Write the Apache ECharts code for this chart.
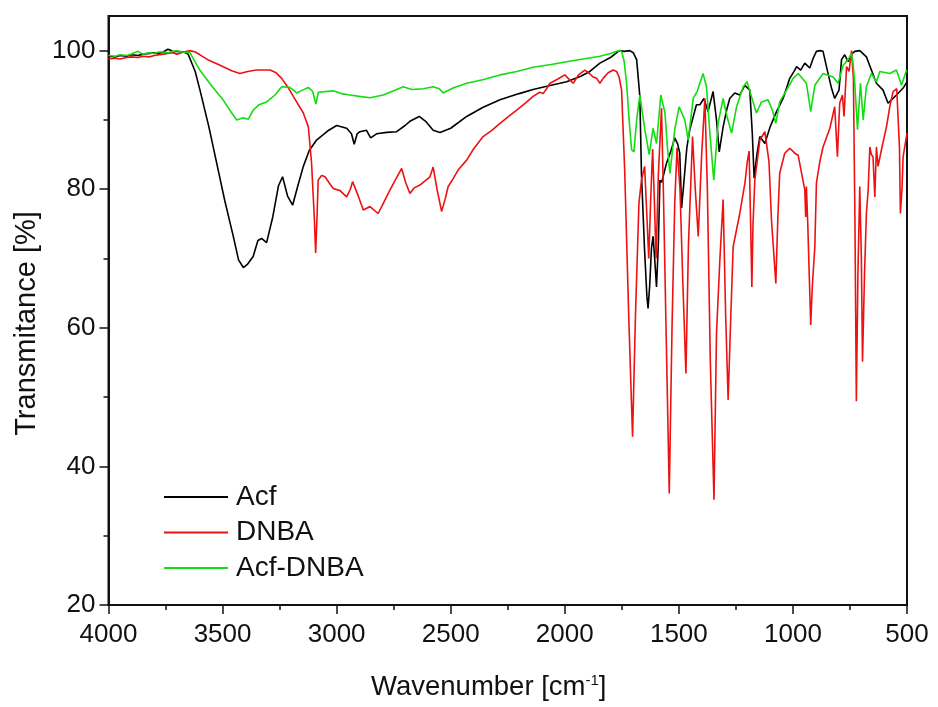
<!DOCTYPE html>
<html>
<head>
<meta charset="utf-8">
<script src="https://cdn.jsdelivr.net/npm/echarts@6/dist/echarts.min.js"></script>
<style>html,body{margin:0;padding:0;background:#fff}#c{width:938px;height:707px}</style>
</head>
<body>
<div id="c"></div>
<script>
// Data: [wavenumber (cm-1), transmittance (%)]
const seriesNames = ['Acf', 'DNBA', 'Acf-DNBA'];
const xTicks = [500, 1000, 1500, 2000, 2500, 3000, 3500, 4000];
const yTicks = [20, 40, 60, 80, 100];
const yMinorTicks = [30, 50, 70, 90];

const acf = [[4000,99.2],[3970,99.1],[3950,99.3],[3920,99.2],[3900,99.4],[3870,99.3],[3850,99.5],[3820,99.6],[3800,99.7],[3780,99.6],[3760,99.8],[3740,100.2],[3730,100.1],[3715,99.8],[3700,99.9],[3670,99.8],[3651,99.5],[3620,97],[3599,94.3],[3560,89],[3526,83.8],[3490,78.3],[3453,73.2],[3430,69.8],[3409,68.7],[3390,69.2],[3366,70.3],[3345,72.6],[3329,72.9],[3307,72.3],[3280,76],[3255,80.5],[3237,81.8],[3215,79],[3193,77.7],[3170,80.5],[3146,83.3],[3120,85.6],[3088,87.1],[3040,88.4],[3000,89.2],[2956,88.8],[2935,88],[2923,86.5],[2910,88],[2898,88.3],[2869,88.5],[2851,87.4],[2825,88],[2780,88.2],[2737,88.3],[2700,89.2],[2679,89.8],[2638,90.5],[2610,89.8],[2577,88.5],[2547,88.2],[2500,88.8],[2430,90.5],[2360,91.8],[2284,92.9],[2200,93.8],[2139,94.4],[2060,95],[1992,95.5],[1930,96.3],[1890,97],[1846,98.2],[1800,99],[1770,99.8],[1759,100],[1740,99.9],[1715,100],[1700,99.7],[1685,98.7],[1671,93.4],[1664,82.3],[1650,71],[1640,64.5],[1635,62.8],[1628,66],[1620,71.5],[1613,73.2],[1606,70],[1598,65.9],[1590,72],[1583,81.3],[1575,81],[1554,83.8],[1535,85.5],[1518,87.4],[1505,86.5],[1496,85.2],[1488,77.3],[1478,81],[1465,86],[1452,88.6],[1423,92.2],[1408,92.2],[1390,93.1],[1372,91.2],[1350,94.1],[1335,90],[1323,85.4],[1306,89],[1290,91.5],[1277,93.1],[1255,93.9],[1233,93.6],[1211,95],[1189,94.3],[1178,88],[1170,81.6],[1158,85],[1145,87.6],[1123,86.6],[1100,89],[1072,91.2],[1043,93.1],[1014,96],[995,97],[984,97.7],[966,97.2],[948,98.2],[926,97.5],[910,99],[897,99.9],[880,100],[868,99.9],[853,97.7],[831,94.6],[817,93.1],[798,94.3],[787,98.7],[773,99.4],[758,98.4],[743,99.5],[729,99.9],[707,100],[678,99.1],[656,97.2],[634,95.3],[605,94.3],[583,92.4],[568,92.9],[546,93.6],[517,94.6],[500,95.5]];

const dnba = [[4000,98.8],[3970,98.9],[3950,98.8],[3920,99.0],[3900,99.1],[3870,99.0],[3850,99.2],[3820,99.1],[3800,99.3],[3760,99.5],[3720,99.7],[3700,99.5],[3680,99.7],[3657,99.9],[3643,100],[3620,99.8],[3599,99.4],[3560,98.6],[3511,97.9],[3460,97.1],[3424,96.7],[3390,97.0],[3351,97.2],[3292,97.2],[3265,96.8],[3241,96],[3215,94.8],[3190,93.4],[3146,91],[3124,89],[3110,83.8],[3098,76],[3092,70.8],[3086,76],[3081,81.3],[3066,82],[3051,81.8],[3030,80.8],[3015,80.1],[2985,79.8],[2956,78.9],[2940,80],[2930,81.1],[2905,79],[2883,77],[2854,77.5],[2818,76.5],[2795,78],[2766,79.9],[2740,81.5],[2715,83],[2698,81],[2679,79.4],[2660,80.2],[2635,80.6],[2591,81.8],[2577,83.2],[2560,80],[2540,76.8],[2525,78.5],[2511,80.4],[2490,81.5],[2467,82.8],[2430,84.2],[2400,85.8],[2358,87.6],[2320,88.5],[2284,89.5],[2250,90.4],[2211,91.4],[2170,92.5],[2139,93.4],[2110,94],[2095,93.8],[2080,94.5],[2065,95.3],[2030,95.9],[2000,96.5],[1985,96],[1963,95.3],[1940,96.5],[1912,97.2],[1895,96.8],[1876,96.2],[1860,96],[1846,95.3],[1832,96],[1810,96.8],[1788,97.2],[1773,97],[1762,96.2],[1751,94.3],[1737,82.3],[1720,62],[1703,44.3],[1690,62],[1675,78],[1664,81.3],[1650,83.3],[1640,76],[1632,70],[1624,78],[1615,85.8],[1607,78],[1600,70],[1590,82],[1576,91.7],[1568,80],[1555,58],[1542,36.1],[1530,60],[1518,78],[1508,86],[1495,80],[1482,66],[1469,53.4],[1458,72],[1440,87.6],[1428,80],[1415,73.2],[1400,85],[1386,93.1],[1375,80],[1362,55],[1346,35.2],[1335,59.2],[1320,70],[1306,78.5],[1295,62],[1284,49.6],[1272,62],[1262,71.7],[1233,76.5],[1210,81],[1200,84],[1192,85.5],[1186,76],[1180,65.9],[1175,75],[1167,81.3],[1145,87.1],[1123,88.3],[1105,84],[1094,75.6],[1075,66.4],[1066,76],[1058,82.3],[1036,85.2],[1014,85.9],[1000,85.5],[992,85.2],[977,84.9],[962,82.3],[948,79.9],[944,76],[941,80.4],[935,75],[922,60.4],[915,66],[904,71.7],[897,80.9],[882,84],[868,86.1],[838,88.8],[817,91.9],[805,84.7],[795,92.4],[783,93.6],[776,90.5],[765,97.7],[754,97],[743,100],[735,96],[728,75],[722,49.4],[715,68],[707,80.4],[700,70],[695,55.1],[686,68],[678,76.5],[670,80],[663,86.1],[656,85],[649,84.7],[641,78.9],[634,86.1],[627,83.3],[612,85.7],[600,87.5],[590,89],[575,92],[561,94.1],[545,94.5],[539,94.3],[533,86],[529,76.5],[522,80],[517,84.7],[500,88.1]];

const acfDnba = [[4000,99.3],[3970,99.2],[3950,99.4],[3920,99.3],[3900,99.5],[3870,99.9],[3850,99.5],[3820,99.7],[3800,99.6],[3780,99.8],[3760,99.8],[3740,99.7],[3720,99.9],[3700,100],[3680,99.8],[3643,99.7],[3600,97.2],[3550,95],[3500,93],[3460,91],[3438,90],[3410,90.3],[3387,90.1],[3366,91.4],[3340,92.2],[3307,92.6],[3270,93.6],[3241,94.8],[3205,94.7],[3175,93.9],[3150,94.3],[3124,94.7],[3105,94.1],[3091,92.3],[3080,94],[3073,94.1],[3015,94.2],[2980,93.8],[2942,93.6],[2900,93.4],[2854,93.2],[2796,93.6],[2750,94.2],[2708,94.8],[2671,94.4],[2620,94.5],[2577,94.8],[2550,94.5],[2533,93.9],[2490,94.6],[2430,95.3],[2360,95.8],[2284,96.5],[2210,97],[2139,97.6],[2060,98],[1992,98.4],[1920,98.8],[1846,99.2],[1800,99.6],[1766,100],[1751,99.9],[1740,98.5],[1729,95.3],[1718,90],[1707,85.7],[1697,85.4],[1685,90],[1671,93.6],[1660,91],[1649,88.6],[1630,85],[1613,88.8],[1598,86.6],[1579,93.6],[1561,91],[1550,86],[1539,82.3],[1518,88.6],[1499,91.9],[1474,90],[1459,87.1],[1437,93.1],[1420,94.1],[1394,96.7],[1379,94.8],[1364,88.1],[1347,81.3],[1328,89.5],[1306,93.1],[1289,90.5],[1269,88.1],[1247,91.9],[1218,94.8],[1201,95.5],[1182,93.4],[1160,91],[1138,92.6],[1109,92.9],[1090,91.4],[1075,89.5],[1058,92.6],[1028,94.3],[999,96],[977,96.7],[970,96.5],[941,95.3],[922,91.2],[904,95],[868,96.7],[824,96.2],[802,95.3],[780,97.9],[758,98.7],[743,99.6],[736,98],[729,95.3],[717,88.6],[704,95.3],[692,90],[678,94.8],[656,96.7],[634,95.5],[619,97],[575,96.7],[546,97.2],[524,95],[502,97.2]];

const colors = ['#000000', '#ee1111', '#11dd11'];
const FONT = '"Liberation Sans", Arial, Helvetica, sans-serif';

const chart = echarts.init(document.getElementById('c'), null, {renderer: 'canvas'});
chart.setOption({
  animation: false,
  backgroundColor: '#ffffff',
  textStyle: {fontFamily: FONT, color: '#111'},
  grid: {left: 108.5, right: 31, top: 16, bottom: 102, show: true, borderColor: '#111', borderWidth: 2, backgroundColor: 'transparent'},
  legend: {
    data: seriesNames,
    orient: 'vertical', left: 159, top: 478,
    icon: 'rect', itemWidth: 64, itemHeight: 2, itemGap: 7.5,
    selectedMode: false,
    textStyle: {fontFamily: FONT, fontSize: 28, lineHeight: 28, color: '#111', padding: [0, 0, 0, 3]}
  },
  xAxis: {
    type: 'value', inverse: true, min: 500, max: 4000, interval: 500,
    name: 'Wavenumber [cm{sup|-1}]', nameLocation: 'middle', nameGap: 68,
    nameTextStyle: {fontFamily: FONT, fontSize: 27.5, color: '#111', padding: [0, 38, 0, 0],
      rich: {sup: {fontFamily: FONT, fontSize: 15, color: '#111', padding: [0, 0, 12, 0]}}},
    axisLine: {show: true, onZero: false, lineStyle: {color: '#111', width: 2}},
    axisTick: {show: true, inside: false, length: 9, lineStyle: {color: '#111', width: 1.5}},
    minorTick: {show: true, splitNumber: 2, length: 5, lineStyle: {color: '#111', width: 1.5}},
    axisLabel: {fontFamily: FONT, fontSize: 26, color: '#111', margin: 17,
      customValues: xTicks, formatter: v => String(v)},
    splitLine: {show: false}
  },
  yAxis: [{
    type: 'value', min: 20, max: 105,
    name: 'Transmitance [%]', nameLocation: 'middle', nameGap: 62,
    nameTextStyle: {fontFamily: FONT, fontSize: 29, color: '#111', padding: [0, 26, 0, 0]},
    axisLine: {show: true, onZero: false, lineStyle: {color: '#111', width: 2}},
    axisTick: {show: true, inside: false, length: 9, lineStyle: {color: '#111', width: 1.5}, customValues: yTicks},
    axisLabel: {fontFamily: FONT, fontSize: 26, color: '#111', margin: 13, customValues: yTicks, formatter: v => String(v)},
    splitLine: {show: false}
  }, {
    type: 'value', min: 20, max: 105, position: 'left',
    axisLine: {show: false},
    axisTick: {show: true, inside: false, length: 5, lineStyle: {color: '#111', width: 1.5}, customValues: yMinorTicks},
    axisLabel: {show: false},
    splitLine: {show: false}
  }],
  series: [
    {name: seriesNames[0], type: 'line', data: acf, showSymbol: false, symbol: 'none', color: colors[0], lineStyle: {width: 1.6, color: colors[0]}},
    {name: seriesNames[1], type: 'line', data: dnba, showSymbol: false, symbol: 'none', color: colors[1], lineStyle: {width: 1.6, color: colors[1]}},
    {name: seriesNames[2], type: 'line', data: acfDnba, showSymbol: false, symbol: 'none', color: colors[2], lineStyle: {width: 1.6, color: colors[2]}}
  ]
});
</script>
</body>
</html>
